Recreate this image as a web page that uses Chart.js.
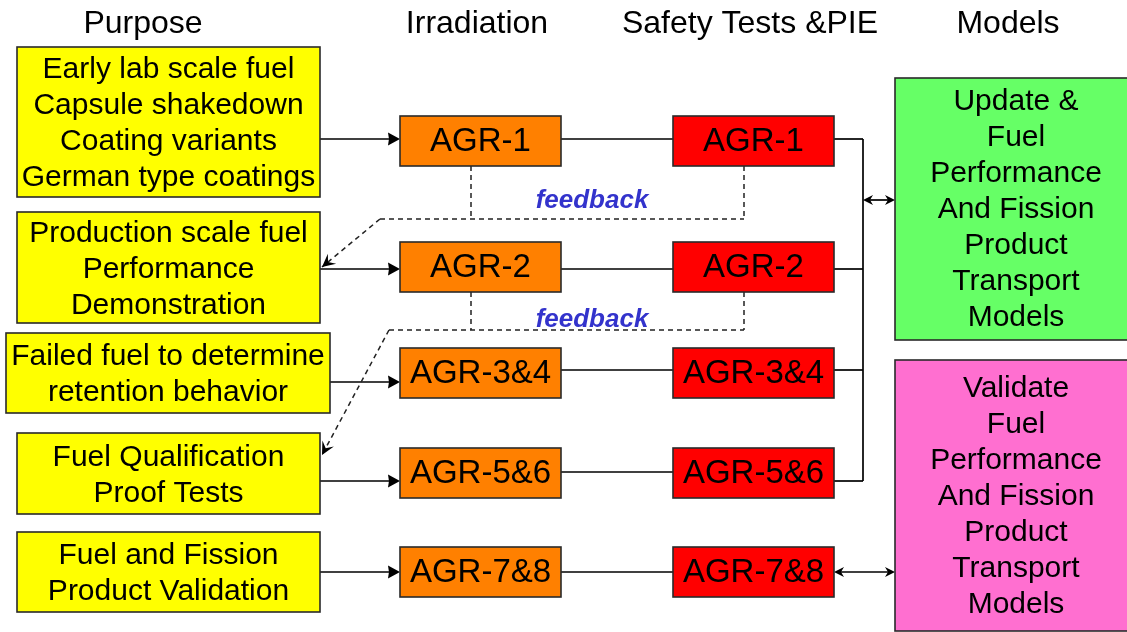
<!DOCTYPE html>
<html>
<head>
<meta charset="utf-8">
<script src="https://cdn.jsdelivr.net/npm/chart.js@4"></script>
<style>
html,body{margin:0;padding:0;background:#fff;}
#wrap{width:1127px;height:632px;}
</style>
</head>
<body>
<div id="wrap"><canvas id="c" width="1127" height="632"></canvas></div>
<script>
// ---------- DATA (text content of the diagram) ----------
const headers = ['Purpose', 'Irradiation', 'Safety Tests &PIE', 'Models'];
const purposeLabels = [
  ['Early lab scale fuel', 'Capsule shakedown', 'Coating variants', 'German type coatings'],
  ['Production scale fuel', 'Performance', 'Demonstration'],
  ['Failed fuel to determine', 'retention behavior'],
  ['Fuel Qualification', 'Proof Tests'],
  ['Fuel and Fission', 'Product Validation']
];
const irradiationLabels = ['AGR-1', 'AGR-2', 'AGR-3&4', 'AGR-5&6', 'AGR-7&8'];
const safetyLabels = ['AGR-1', 'AGR-2', 'AGR-3&4', 'AGR-5&6', 'AGR-7&8'];
const modelLabels = [
  ['Update &', 'Fuel', 'Performance', 'And Fission', 'Product', 'Transport', 'Models'],
  ['Validate', 'Fuel', 'Performance', 'And Fission', 'Product', 'Transport', 'Models']
];
const feedbackLabel = 'feedback';

// ---------- LAYOUT (diagram coordinates, separate from data) ----------
const headerX = [143, 477, 750, 1008];
const headerBaseline = 33;
const purposeBoxes = [[17,47,320,197],[17,212,320,323],[6,333,330,413],[17,433,320,514],[17,532,320,612]];
const irrBoxes = [[400,116,561,166],[400,242,561,292],[400,348,561,398],[400,448,561,498],[400,547,561,597]];
const safBoxes = [[673,116,834,166],[673,242,834,292],[673,348,834,398],[673,448,834,498],[673,547,834,597]];
const modelBoxes = [[895,78,1140,340],[895,360,1140,631]];
const inArrowY = [139, 269, 382, 481, 572];
const midLineY = [139, 269, 370, 472, 572];
const busLineY = [139, 269, 370, 481];
const busX = 863;
const feedbackPos = [[592,208],[592,327]];
const dashedPaths = [
  {segs:[[471,166,471,219],[744,166,744,219],[380,219,744,219]], arrow:[380,219,322,267]},
  {segs:[[471,292,471,330],[744,292,744,330],[389,330,744,330]], arrow:[389,330,322,455]}
];
const colors = {yellow:'#FFFF00', orange:'#FF8000', red:'#FF0000', green:'#66FF66', magenta:'#FF6FD0', border:'#2a2a2a', feedback:'#3333CC'};
const FONT = '"Liberation Sans", Arial, Helvetica, sans-serif';

const diagramPlugin = {
  id: 'diagram',
  afterDraw(chart) {
    const ctx = chart.ctx;
    const xs = chart.scales.x, ys = chart.scales.y;
    const X = v => xs.getPixelForValue(v);
    const Y = v => ys.getPixelForValue(v);

    function box(b, fill) {
      ctx.save();
      ctx.fillStyle = fill;
      ctx.strokeStyle = colors.border;
      ctx.lineWidth = 1.6;
      const x0 = X(b[0]), y0 = Y(b[1]), x1 = X(b[2]), y1 = Y(b[3]);
      ctx.fillRect(x0, y0, x1 - x0, y1 - y0);
      ctx.strokeRect(x0, y0, x1 - x0, y1 - y0);
      ctx.restore();
    }
    function lines(b, txt, size, lh, dy, cx) {
      const arr = Array.isArray(txt) ? txt : [txt];
      ctx.save();
      ctx.fillStyle = '#000';
      ctx.font = size + 'px ' + FONT;
      ctx.textAlign = 'center';
      ctx.textBaseline = 'middle';
      const cxp = cx !== undefined ? X(cx) : (X(b[0]) + X(b[2])) / 2;
      const cy = (Y(b[1]) + Y(b[3])) / 2 + dy;
      const n = arr.length;
      arr.forEach((t, i) => {
        ctx.fillText(t, cxp, cy + (i - (n - 1) / 2) * lh);
      });
      ctx.restore();
    }
    function seg(x0, y0, x1, y1, dashed) {
      ctx.save();
      ctx.strokeStyle = '#000';
      ctx.lineWidth = 1.7;
      if (dashed) { ctx.setLineDash([5, 4]); ctx.strokeStyle = '#222'; ctx.lineWidth = 1.5; }
      ctx.beginPath();
      ctx.moveTo(X(x0), Y(y0));
      ctx.lineTo(X(x1), Y(y1));
      ctx.stroke();
      ctx.restore();
    }
    function head(x0, y0, x1, y1, len, hw, notch) {
      const px0 = X(x0), py0 = Y(y0), px1 = X(x1), py1 = Y(y1);
      const a = Math.atan2(py1 - py0, px1 - px0);
      ctx.save();
      ctx.translate(px1, py1);
      ctx.rotate(a);
      ctx.fillStyle = '#000';
      ctx.beginPath();
      ctx.moveTo(0, 0);
      ctx.lineTo(-len, -hw);
      ctx.lineTo(-len * notch, 0);
      ctx.lineTo(-len, hw);
      ctx.closePath();
      ctx.fill();
      ctx.restore();
    }

    // headers
    ctx.save();
    ctx.fillStyle = '#000';
    ctx.font = '32px ' + FONT;
    ctx.textAlign = 'center';
    ctx.textBaseline = 'alphabetic';
    headers.forEach((h, i) => ctx.fillText(h, X(headerX[i]), Y(headerBaseline)));
    ctx.restore();

    // connectors
    inArrowY.forEach((y, i) => {
      const b = purposeBoxes[i], t = irrBoxes[i];
      seg(b[2], y, t[0] - 4, y);
      head(b[2], y, t[0], y, 12, 6.5, 0.92);
    });
    midLineY.forEach((y, i) => seg(irrBoxes[i][2], y, safBoxes[i][0], y));
    busLineY.forEach((y, i) => seg(safBoxes[i][2], y, busX, y));
    seg(busX, busLineY[0], busX, busLineY[busLineY.length - 1]);
    // double arrows
    seg(busX + 3, 200, modelBoxes[0][0] - 3, 200);
    head(modelBoxes[0][0], 200, busX, 200, 10, 5, 0.7);
    head(busX, 200, modelBoxes[0][0], 200, 10, 5, 0.7);
    seg(safBoxes[4][2] + 3, 572, modelBoxes[1][0] - 3, 572);
    head(modelBoxes[1][0], 572, safBoxes[4][2], 572, 10, 5, 0.7);
    head(safBoxes[4][2], 572, modelBoxes[1][0], 572, 10, 5, 0.7);

    // dashed feedback paths
    dashedPaths.forEach(p => {
      p.segs.forEach(s => seg(s[0], s[1], s[2], s[3], true));
      const a = p.arrow;
      seg(a[0], a[1], a[2], a[3], true);
      head(a[0], a[1], a[2], a[3], 13, 6.5, 0.6);
    });

    // boxes
    purposeBoxes.forEach((b, i) => { box(b, colors.yellow); lines(b, purposeLabels[i], 30, 36, 2); });
    irrBoxes.forEach((b, i) => { box(b, colors.orange); lines(b, irradiationLabels[i], 33, 36, 1); });
    safBoxes.forEach((b, i) => { box(b, colors.red); lines(b, safetyLabels[i], 33, 36, 1); });
    box(modelBoxes[0], colors.green); lines(modelBoxes[0], modelLabels[0], 30, 36, 1, 1016);
    box(modelBoxes[1], colors.magenta); lines(modelBoxes[1], modelLabels[1], 30, 36, 1, 1016);

    // feedback labels
    ctx.save();
    ctx.fillStyle = colors.feedback;
    ctx.font = 'italic bold 26px ' + FONT;
    ctx.textAlign = 'center';
    ctx.textBaseline = 'alphabetic';
    feedbackPos.forEach(p => ctx.fillText(feedbackLabel, X(p[0]), Y(p[1])));
    ctx.restore();
  }
};

new Chart(document.getElementById('c'), {
  type: 'scatter',
  data: { datasets: [{ data: [], pointRadius: 0 }] },
  options: {
    responsive: false,
    animation: false,
    layout: { padding: 0 },
    plugins: { legend: { display: false }, tooltip: { enabled: false } },
    scales: {
      x: { type: 'linear', min: 0, max: 1127, display: false },
      y: { type: 'linear', min: 0, max: 632, reverse: true, display: false }
    }
  },
  plugins: [diagramPlugin]
});
</script>
</body>
</html>
